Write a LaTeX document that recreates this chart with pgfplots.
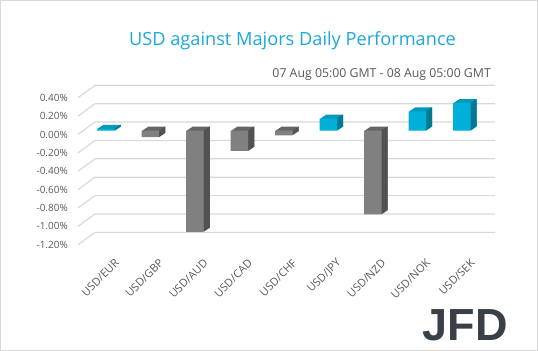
\documentclass[border=0pt]{standalone}
\usepackage{pgfplots}
\pgfplotsset{compat=1.18}
\usepackage{pgfplotstable}
\usepackage{fontspec}
\setmainfont{Open Sans}
\newfontfamily\logofont{Liberation Sans}
\definecolor{cyF}{HTML}{00B0D8}
\definecolor{cyT}{HTML}{0098BE}
\definecolor{cyS}{HTML}{00788F}
\definecolor{grF}{HTML}{808080}
\definecolor{grT}{HTML}{666666}
\definecolor{grS}{HTML}{525252}
\definecolor{gridc}{HTML}{D9D9D9}
\definecolor{txt}{HTML}{595959}
\definecolor{ttl}{HTML}{1AA8DC}
\definecolor{logo}{HTML}{3A4047}
\pgfplotstableread{
x y
0 0.02
5 0.13
7 0.21
8 0.30
}\tblpos
\pgfplotstableread{
x y
1 -0.07
2 -1.10
3 -0.22
4 -0.05
6 -0.91
}\tblneg
\begin{document}
\begin{tikzpicture}
\draw[gridc, line width=1bp] (0.5bp,0.5bp) rectangle (537.5bp,350.5bp);
\node[anchor=base, text=ttl, font=\fontsize{18.2bp}{20bp}\selectfont] at (292.5bp,305bp) {USD against Majors Daily Performance};
\node[anchor=base east, text=txt, inner sep=0pt, font=\fontsize{12.3bp}{14bp}\selectfont] at (491bp,273.7bp) {07 Aug 05:00 GMT - 08 Aug 05:00 GMT};
\node[anchor=base east, text=logo, inner sep=0pt, font=\fontsize{45bp}{48bp}\logofont\bfseries] at (508bp,11bp) {JFD};
\begin{axis}[
  set layers,
  scale only axis,
  width=400.25bp, height=147.1bp,
  at={(83.75bp,110bp)}, anchor=south west,
  xmin=-0.5, xmax=8.5, ymin=-1.2, ymax=0.4,
  clip=false,
  axis line style={draw=none},
  tick style={draw=none}, major tick length=0pt,
  xtick={0,...,8},
  xticklabels={USD/EUR,USD/GBP,USD/AUD,USD/CAD,USD/CHF,USD/JPY,USD/NZD,USD/NOK,USD/SEK},
  xticklabel style={rotate=45, anchor=east, inner sep=0pt, xshift=-6.5bp, yshift=-22bp, text=txt, font=\fontsize{11bp}{12bp}\selectfont},
  ytick={-1.2,-1.0,-0.8,-0.6,-0.4,-0.2,0,0.2,0.4},
  yticklabels={-1.20\%,-1.00\%,-0.80\%,-0.60\%,-0.40\%,-0.20\%,0.00\%,0.20\%,0.40\%},
  yticklabel style={anchor=east, inner sep=0pt, xshift=-15.75bp, yshift=-3.8bp, text=txt, font=\fontsize{10bp}{12bp}\selectfont},
]
\pgfplotsinvokeforeach{-1.2,-1.0,-0.8,-0.6,-0.4,-0.2,0,0.2,0.4}{
  \draw[gridc, line width=1.2bp, on layer=axis background] ([shift={(-5.75bp,-3.8bp)}]axis cs:-0.5,#1) -- ([shift={(11.25bp,8.6bp)}]axis cs:-0.5,#1) -- ([shift={(11.25bp,8.6bp)}]axis cs:8.5,#1);
}
% extrusion (top colour)
\pgfplotsinvokeforeach{6,5,4,3,2,1}{
  \addplot[ybar, bar width=17.5bp, bar shift=#1bp, yshift=#1*0.667bp, fill=cyT, draw=none, forget plot] table[x=x,y=y] {\tblpos};
  \addplot[ybar, bar width=17.5bp, bar shift=#1bp, yshift=#1*0.667bp, fill=grT, draw=none, forget plot] table[x=x,y=y] {\tblneg};
}
% side faces
\pgfplotsinvokeforeach{9,9.5,10,10.5,11,11.5,12,12.5,13,13.5,14,14.5}{
  \addplot[ybar, bar width=0.7bp, bar shift=#1bp, yshift=(#1-8.5)*0.667bp, fill=cyS, draw=none, forget plot] table[x=x,y=y] {\tblpos};
  \addplot[ybar, bar width=0.7bp, bar shift=#1bp, yshift=(#1-8.5)*0.667bp, fill=grS, draw=none, forget plot] table[x=x,y=y] {\tblneg};
}
% front faces
\addplot[ybar, bar width=17.5bp, bar shift=0bp, fill=cyF, draw=none] table[x=x,y=y] {\tblpos};
\addplot[ybar, bar width=17.5bp, bar shift=0bp, fill=grF, draw=none] table[x=x,y=y] {\tblneg};
\end{axis}
\end{tikzpicture}
\end{document}
